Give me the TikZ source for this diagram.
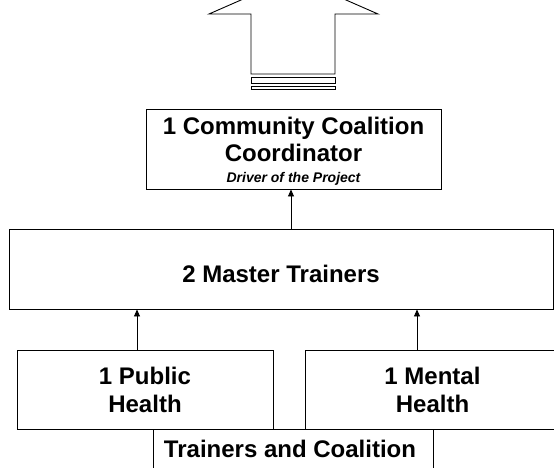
\documentclass[tikz,border=0pt]{standalone}
\usepackage{fontspec}
\setmainfont{Liberation Sans}
\usetikzlibrary{arrows.meta}
\begin{document}
\begin{tikzpicture}[x=1pt,y=-1pt,
  box/.style={draw=black,line width=0.9pt,rectangle,inner sep=0pt,align=center,
    font=\fontsize{24}{28}\selectfont\bfseries},
  arr/.style={draw=black,line width=0.9pt,-{Triangle[length=7pt,width=6pt]}},
  lbl/.style={inner sep=0pt,font=\fontsize{24}{28}\selectfont\bfseries}]
\useasboundingbox (0,0) rectangle (554,467);
\clip (0,0) rectangle (554,467);
% big hollow arrow
\draw[line width=0.9pt,line join=miter] (209,14) -- (251,14) -- (251,74) -- (335,74) -- (335,14) -- (378,14) -- (293.5,-23) -- cycle;
\draw[line width=0.9pt] (251,77) rectangle (335,83);
\draw[line width=0.9pt] (251,86) rectangle (335,89);
% boxes
\node[box,minimum width=295pt,minimum height=80pt] (coord) at (293.5,149) {};
\node[lbl,align=center] (coordtxt) at (293.5,151) {1 Community Coalition\\[-1pt]Coordinator\\[-7pt]{\fontsize{14}{16}\selectfont\bfseries\itshape Driver of the Project}};
\node[box,minimum width=544pt,minimum height=80pt] (master) at (281,269) {};
\node[lbl] (mastertxt) at (281,274) {2 Master Trainers};
\node[box,minimum width=256pt,minimum height=79pt] (pub) at (145,389.5) {1 Public\\[0pt]Health};
\node[box,minimum width=255pt,minimum height=79pt] (ment) at (432.5,389.5) {1 Mental\\[0pt]Health};
\node[box,minimum width=280pt,minimum height=60pt] (tc) at (293,459) {};
\node[lbl] (tctxt) at (290,449) {Trainers and Coalition};
% connectors
\draw[arr] ([xshift=-2.5pt]coord.south |- master.north) -- ([xshift=-2.5pt]coord.south);
\draw[arr] ([xshift=-8pt]pub.north) -- ([xshift=-8pt]pub.north |- master.south);
\draw[arr] ([xshift=-15.5pt]ment.north) -- ([xshift=-15.5pt]ment.north |- master.south);
\end{tikzpicture}
\end{document}
